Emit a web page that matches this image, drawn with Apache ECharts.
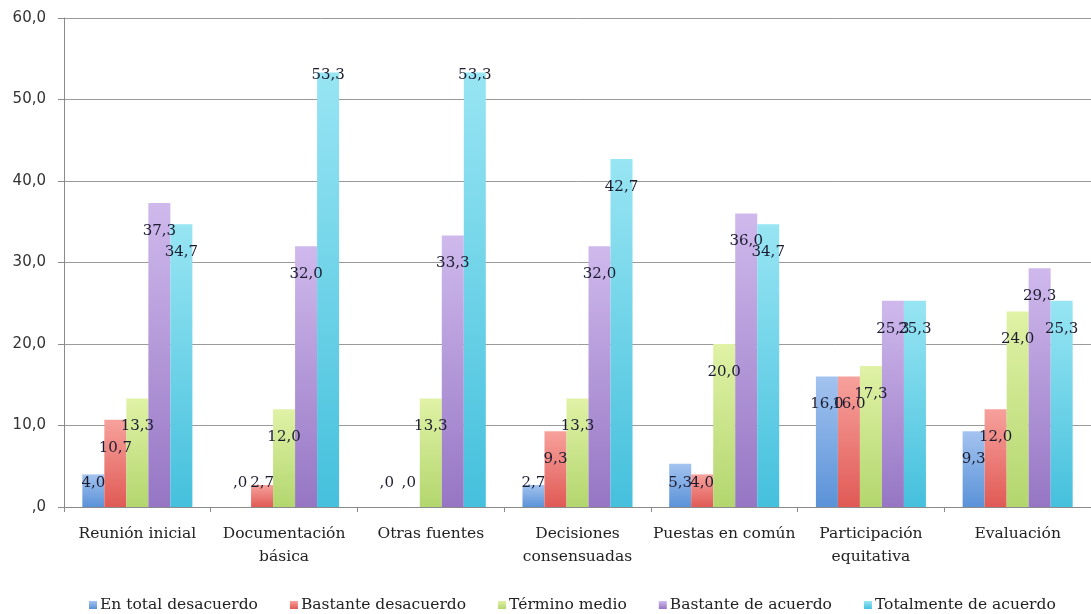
<!DOCTYPE html>
<html>
<head>
    <meta charset="utf-8">
    <script src="https://cdn.jsdelivr.net/npm/echarts@6/dist/echarts.min.js"></script>
</head>
<body style="margin: 0; background: #fff">
    <div id="main" style="width: 1091px; height: 614px"></div>
    <script type="text/javascript">
        var categories = ['Reunión inicial', 'Documentación\nbásica', 'Otras fuentes', 'Decisiones\nconsensuadas',
            'Puestas en común', 'Participación\nequitativa', 'Evaluación'];
        var seriesNames = ['En total desacuerdo', 'Bastante desacuerdo', 'Término medio',
            'Bastante de acuerdo', 'Totalmente de acuerdo'];
        var totalDesacuerdo = [4.0, 0, 0, 2.7, 5.3, 16.0, 9.3];
        var bastanteDesacuerdo = [10.7, 2.7, 0, 9.3, 4.0, 16.0, 12.0];
        var terminoMedio = [13.3, 12.0, 13.3, 13.3, 20.0, 17.3, 24.0];
        var bastanteAcuerdo = [37.3, 32.0, 33.3, 32.0, 36.0, 25.3, 29.3];
        var totalmenteAcuerdo = [34.7, 53.3, 53.3, 42.7, 34.7, 25.3, 25.3];
        var yTicks = [0, 10, 20, 30, 40, 50, 60];

        var values = [totalDesacuerdo, bastanteDesacuerdo, terminoMedio, bastanteAcuerdo, totalmenteAcuerdo];
        var colors = [
            ['#a3c3ef', '#5a92d8'],
            ['#f7a19c', '#e05a55'],
            ['#e0f2a6', '#b3d66e'],
            ['#cfb9ec', '#9676c4'],
            ['#98e5f3', '#45c0dd']
        ];

        function fmt(v) {
            var s = v.toFixed(1).replace('.', ',');
            return s.indexOf('0,') === 0 ? s.substring(1) : s;
        }

        var pxPerUnit = 489 / 60;

        var series = values.map(function (arr, i) {
            return {
                name: seriesNames[i],
                type: 'bar',
                barGap: 0,
                barCategoryGap: '25%',
                itemStyle: {
                    color: new echarts.graphic.LinearGradient(0, 0, 0, 1, [
                        { offset: 0, color: colors[i][0] },
                        { offset: 1, color: colors[i][1] }
                    ])
                },
                data: arr.map(function (v) {
                    // small bars: label sits just above the axis, tall ones: inside near the top
                    var dy = Math.min(15.5, v * pxPerUnit - 36.5);
                    if (v > 50) dy = -9.5;
                    return {
                        value: v,
                        label: { offset: [0, dy] }
                    };
                }),
                label: {
                    show: true,
                    position: 'insideTop',
                    fontFamily: 'DejaVu Serif',
                    fontSize: 15,
                    color: '#1c1c30',
                    formatter: function (p) { return fmt(p.value); }
                }
            };
        });

        var myChart = echarts.init(document.getElementById('main'), null, { renderer: 'canvas' });
        var option = {
            animation: false,
            color: colors.map(function (c) { return c[1]; }),
            grid: { left: 64, right: 0, top: 18, bottom: 107 },
            legend: {
                top: 592,
                left: 84,
                icon: 'rect',
                itemWidth: 8,
                itemHeight: 8,
                itemGap: 32,
                textStyle: { fontFamily: 'DejaVu Serif', fontSize: 15.5, color: '#222', padding: [0, 0, 0, -2] },
                data: seriesNames
            },
            xAxis: {
                type: 'category',
                data: categories,
                axisLine: { lineStyle: { color: '#8a8a8a' } },
                axisTick: { show: true, length: 5, lineStyle: { color: '#8a8a8a' } },
                axisLabel: {
                    interval: 0,
                    margin: 15,
                    fontFamily: 'DejaVu Serif',
                    fontSize: 15.5,
                    lineHeight: 23,
                    color: '#222'
                }
            },
            yAxis: {
                type: 'value',
                min: yTicks[0],
                max: yTicks[yTicks.length - 1],
                interval: 10,
                axisLine: { show: true, lineStyle: { color: '#8a8a8a' } },
                axisTick: { show: true, length: 6, lineStyle: { color: '#8a8a8a' } },
                splitLine: { lineStyle: { color: '#9a9a9a' } },
                axisLabel: {
                    margin: 18,
                    fontFamily: 'DejaVu Sans',
                    fontSize: 15,
                    color: '#333',
                    formatter: function (v) { return fmt(v); }
                }
            },
            series: series
        };
        myChart.setOption(option);
        window.addEventListener('resize', myChart.resize);
    </script>
</body>
</html>
